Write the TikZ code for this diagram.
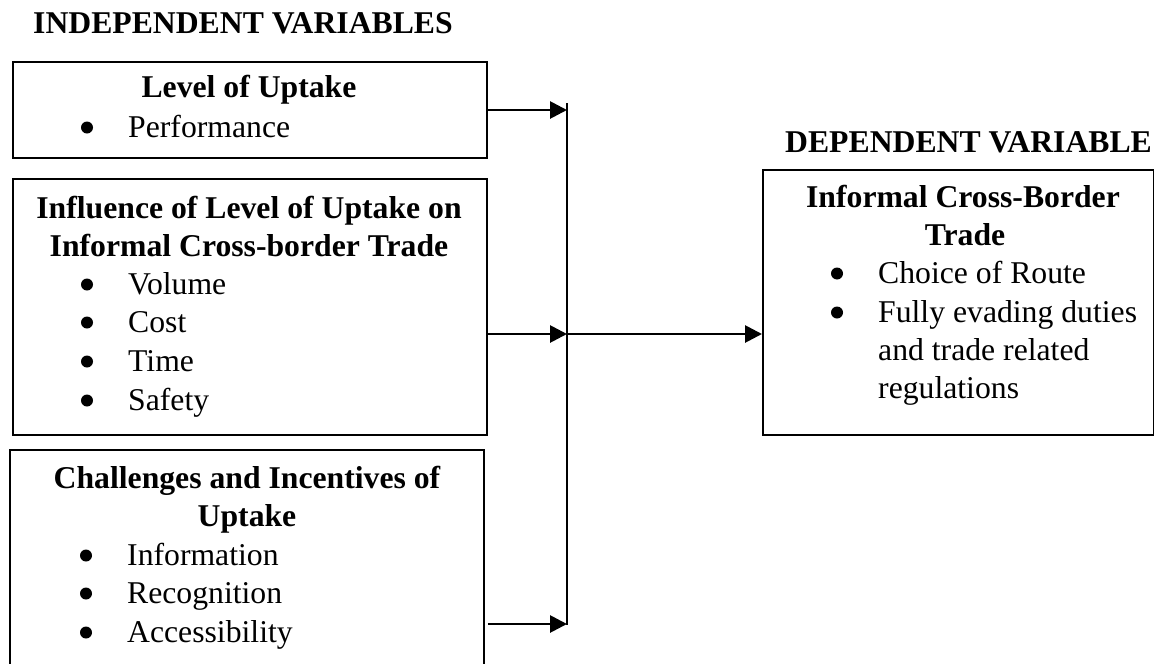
\documentclass[tikz,border=0pt]{standalone}
\usepackage{fontspec}
\setmainfont{Liberation Serif}
\usetikzlibrary{arrows.meta}
\tikzset{
  boxnode/.style={draw=black, line width=1.8pt, rectangle, inner sep=0pt, anchor=north west},
  conn/.style={line width=2.8pt, -{Triangle[length=17pt,width=17pt]}},
  vline/.style={line width=2.4pt},
  ttl/.style={inner sep=0pt, anchor=base, font=\fontsize{31.7}{38.5}\selectfont\bfseries},
  hdr/.style={inner sep=0pt, anchor=base west, font=\fontsize{31.7}{38.5}\selectfont\bfseries},
  itm/.style={inner sep=0pt, anchor=base west, font=\fontsize{31.7}{38.5}\selectfont},
  bul/.style={circle, fill=black, draw=none, inner sep=0pt, minimum size=12pt, yshift=9.5pt},
}
\begin{document}
\begin{tikzpicture}[x=1pt,y=-1pt]
\useasboundingbox (0,0) rectangle (1154,664);
\clip (0,0) rectangle (1154,664);
% headings
\node[hdr] (hind) at (33,33) {INDEPENDENT VARIABLES};
\node[hdr] (hdep) at (785,152) {DEPENDENT VARIABLE};
% boxes
\node[boxnode, minimum width=474pt, minimum height=96pt] (b1) at (12,61) {};
\node[boxnode, minimum width=474pt, minimum height=256pt] (b2) at (12,178) {};
\node[boxnode, minimum width=474pt, minimum height=240pt] (b3) at (9,449) {};
\node[boxnode, minimum width=391pt, minimum height=265pt] (dv) at (762,169) {};
% box 1 text
\node[ttl] (t1) at (249,97) {Level of Uptake};
\node[bul] (b1a) at (87,137) {};
\node[itm] (i1a) at (128,137) {Performance};
% box 2 text
\node[ttl] (t2a) at (249,218) {Influence of Level of Uptake on};
\node[ttl] (t2b) at (249,256) {Informal Cross-border Trade};
\node[bul] (b2a) at (87,294) {};
\node[itm] (i2a) at (128,294) {Volume};
\node[bul] (b2b) at (87,332) {};
\node[itm] (i2b) at (128,332) {Cost};
\node[bul] (b2c) at (87,371) {};
\node[itm] (i2c) at (128,371) {Time};
\node[bul] (b2d) at (87,410) {};
\node[itm] (i2d) at (128,410) {Safety};
% box 3 text
\node[ttl] (t3a) at (247,488) {Challenges and Incentives of};
\node[ttl] (t3b) at (247,526) {Uptake};
\node[bul] (b3a) at (86,565) {};
\node[itm] (i3a) at (127,565) {Information};
\node[bul] (b3b) at (86,603) {};
\node[itm] (i3b) at (127,603) {Recognition};
\node[bul] (b3c) at (86,642) {};
\node[itm] (i3c) at (127,642) {Accessibility};
% dependent box text
\node[ttl] (t4a) at (963,207) {Informal Cross-Border};
\node[ttl] (t4b) at (965,245) {Trade};
\node[bul] (b4a) at (837,283) {};
\node[itm] (i4a) at (878,283) {Choice of Route};
\node[bul] (b4b) at (837,322) {};
\node[itm] (i4b) at (878,322) {Fully evading duties};
\node[itm] (i4c) at (878,360) {and trade related};
\node[itm] (i4d) at (878,398) {regulations};
% connectors
\coordinate (vtop) at (567,103);
\coordinate (vbot) at (567,625);
\coordinate (j1) at (567,110);
\coordinate (j2) at (567,334);
\coordinate (j3) at (567,624);
\draw[vline] (vtop) -- (vbot);
\draw[conn] (b1.east |- j1) -- (j1);
\draw[conn] (b2.east |- j2) -- (j2);
\draw[conn] ([xshift=3pt]b3.east |- j3) -- (j3);
\draw[conn] (j2) -- (dv.west |- j2);
\end{tikzpicture}
\end{document}
